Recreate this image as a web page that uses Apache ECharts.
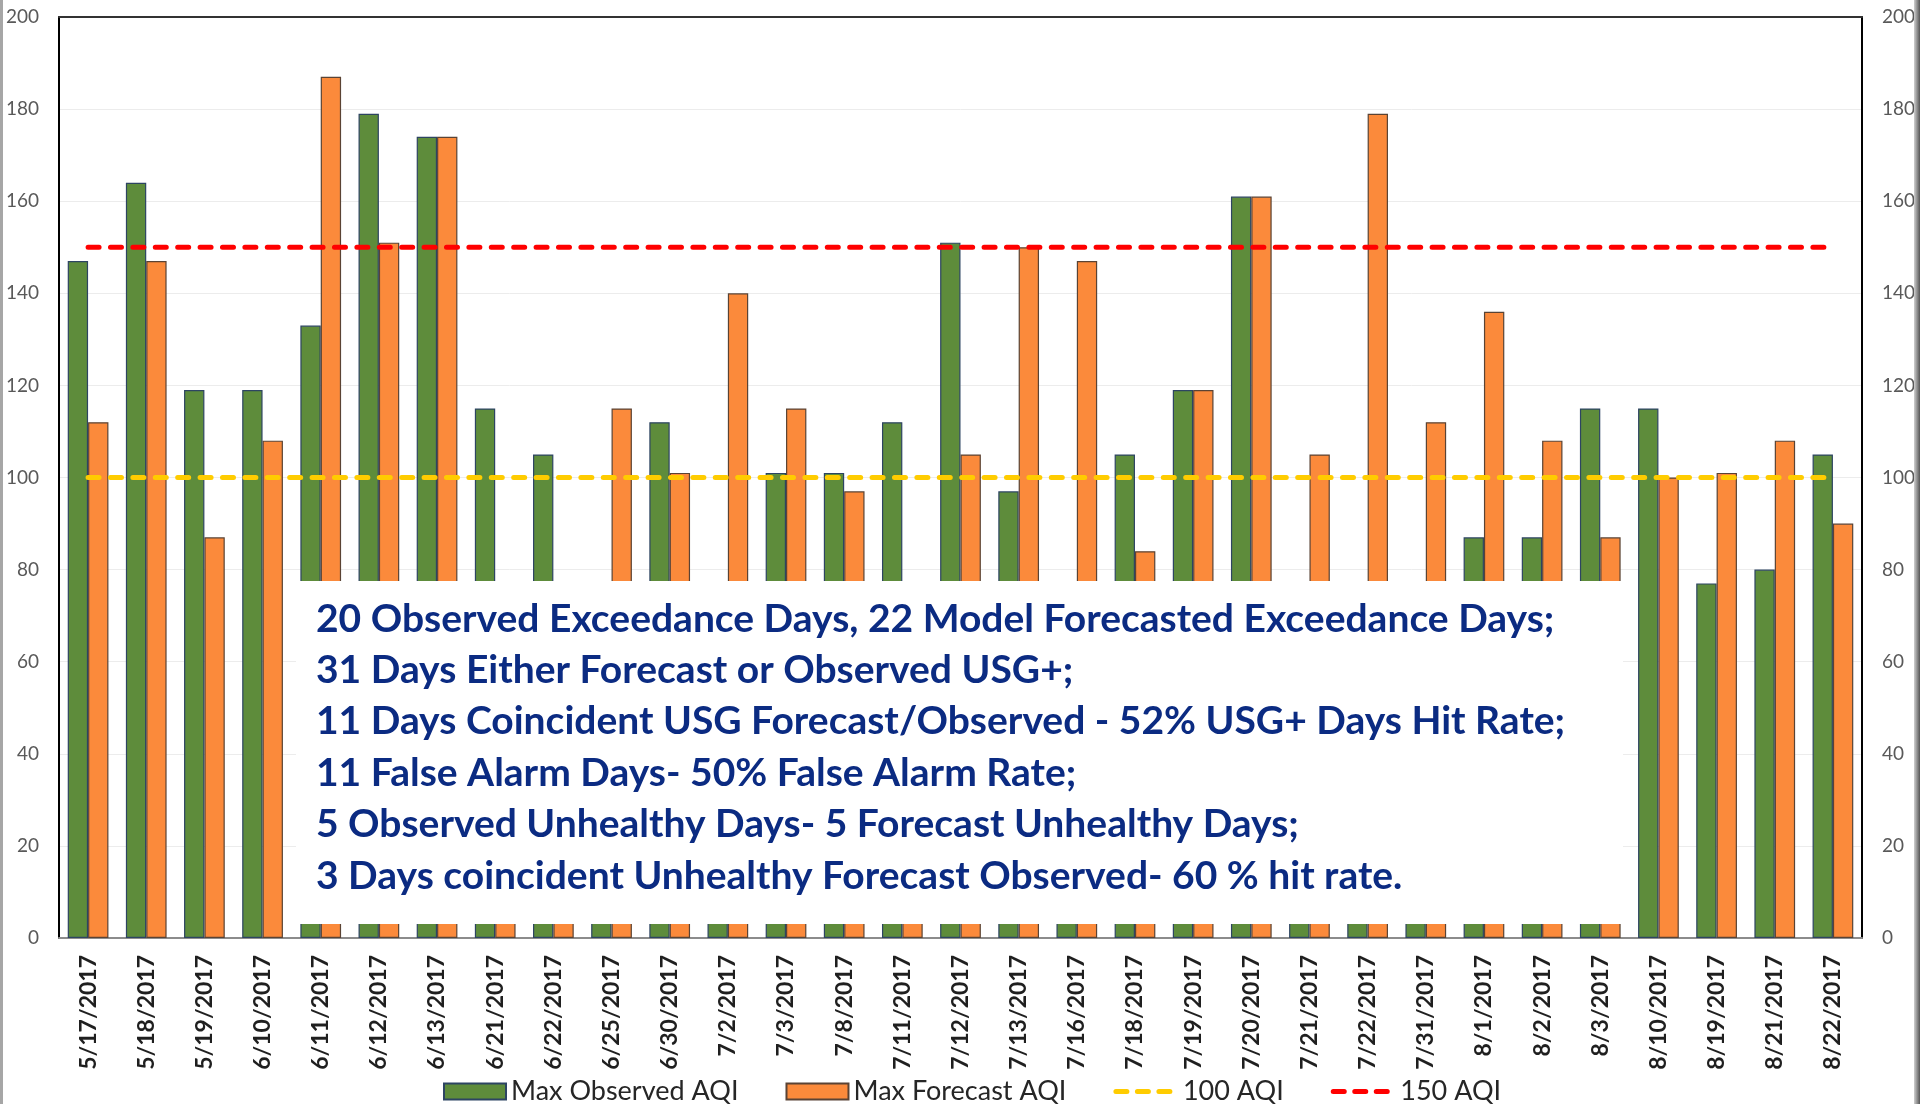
<!DOCTYPE html>
<html>
<head>
<meta charset="utf-8">
<title>Max Observed vs Max Forecast AQI</title>
<script src="https://cdn.jsdelivr.net/npm/echarts@6/dist/echarts.min.js"></script>
<style>
  html, body { margin: 0; padding: 0; background: #ffffff; }
  #chart { width: 1920px; height: 1104px; }
</style>
</head>
<body>
<div id="chart"></div>
<script>
// Exceedance-season days
const dates = [
  '5/17/2017', '5/18/2017', '5/19/2017', '6/10/2017', '6/11/2017', '6/12/2017',
  '6/13/2017', '6/21/2017', '6/22/2017', '6/25/2017', '6/30/2017', '7/2/2017',
  '7/3/2017', '7/8/2017', '7/11/2017', '7/12/2017', '7/13/2017', '7/16/2017',
  '7/18/2017', '7/19/2017', '7/20/2017', '7/21/2017', '7/22/2017', '7/31/2017',
  '8/1/2017', '8/2/2017', '8/3/2017', '8/10/2017', '8/19/2017', '8/21/2017',
  '8/22/2017'
];

// Daily maximum AQI, observed
const maxObserved = [
  147, 164, 119, 119, 133, 179,
  174, 115, 105, 72, 112, 68,
  101, 101, 112, 151, 97, 75,
  105, 119, 161, 70, 74, 64,
  87, 87, 115, 115, 77, 80,
  105
];

// Daily maximum AQI, model forecast
const maxForecast = [
  112, 147, 87, 108, 187, 151,
  174, 76, 70, 115, 101, 140,
  115, 97, 73, 105, 150, 147,
  84, 119, 161, 105, 179, 112,
  136, 108, 87, 100, 101, 108,
  90
];

// Threshold reference lines
const aqi100 = [
  100, 100, 100, 100, 100, 100, 100, 100, 100, 100, 100, 100, 100, 100, 100, 100,
  100, 100, 100, 100, 100, 100, 100, 100, 100, 100, 100, 100, 100, 100, 100
];
const aqi150 = [
  150, 150, 150, 150, 150, 150, 150, 150, 150, 150, 150, 150, 150, 150, 150, 150,
  150, 150, 150, 150, 150, 150, 150, 150, 150, 150, 150, 150, 150, 150, 150
];

// Value axis range and step
const yMin = 0;
const yMax = 200;
const yStep = 20;

// Season summary statistics
const summaryLines = [
  '20 Observed Exceedance Days, 22 Model Forecasted Exceedance Days;',
  '31 Days Either Forecast or Observed USG+;',
  '11 Days Coincident USG Forecast/Observed - 52% USG+ Days Hit Rate;',
  '11 False Alarm Days- 50% False Alarm Rate;',
  '5 Observed Unhealthy Days- 5 Forecast Unhealthy Days;',
  '3 Days coincident Unhealthy Forecast Observed- 60 % hit rate.'
];

const FONT = 'Lato, "Liberation Sans", sans-serif';
const chart = echarts.init(document.getElementById('chart'), null, { renderer: 'canvas' });

const dashed = (color) => ({
  color: color,
  width: 5,
  type: [11, 11.4],
  cap: 'round'
});

// Legend swatch for the threshold lines: thick dashes, no point marker
const legendDash = (color) => ({
  lineStyle: { color: color, width: 5, type: [11, 10.5], cap: 'round' },
  itemStyle: { opacity: 0 }
});

const summaryTexts = summaryLines.map((line, i) => ({
  type: 'text',
  z: 101,
  x: 316,
  y: 619 + i * 51.4,
  style: {
    text: line,
    fontFamily: FONT,
    fontWeight: 'bold',
    fontSize: 39,
    fill: '#0B2B82',
    align: 'left',
    verticalAlign: 'middle'
  }
}));

chart.setOption({
  animation: false,
  backgroundColor: '#ffffff',
  grid: { left: 59, right: 58, top: 17, bottom: 166, containLabel: false },
  legend: {
    left: 438,
    top: 1073,
    itemWidth: 62,
    itemHeight: 16,
    itemGap: 47,
    textStyle: { fontFamily: FONT, fontSize: 27, color: '#262626' },
    data: [
      { name: 'Max Observed AQI', icon: 'rect' },
      { name: 'Max Forecast AQI', icon: 'rect' },
      Object.assign({ name: '100 AQI' }, legendDash('#FFCC00')),
      Object.assign({ name: '150 AQI' }, legendDash('#FF0000'))
    ]
  },
  xAxis: [
    {
      type: 'category',
      data: dates,
      position: 'bottom',
      axisLine: { lineStyle: { color: '#8c8c8c', width: 2 } },
      axisTick: { show: false },
      axisLabel: {
        interval: 0,
        rotate: 90,
        margin: 17,
        fontFamily: FONT,
        fontWeight: 'bold',
        fontSize: 23,
        color: '#1f1f1f'
      },
      splitLine: { show: false }
    },
    {
      type: 'category',
      data: dates,
      position: 'top',
      axisLine: { onZero: false, lineStyle: { color: '#333333', width: 2 } },
      axisTick: { show: false },
      axisLabel: { show: false },
      splitLine: { show: false }
    }
  ],
  yAxis: [
    {
      type: 'value',
      min: yMin,
      max: yMax,
      interval: yStep,
      position: 'left',
      axisLine: { show: true, onZero: false, lineStyle: { color: '#000000', width: 2 } },
      axisTick: { show: false },
      axisLabel: { margin: 20, fontFamily: FONT, fontSize: 19, color: '#595959' },
      splitLine: { show: true, lineStyle: { color: '#ececec', width: 1 } }
    },
    {
      type: 'value',
      min: yMin,
      max: yMax,
      interval: yStep,
      position: 'right',
      axisLine: { show: true, onZero: false, lineStyle: { color: '#000000', width: 2 } },
      axisTick: { show: false },
      axisLabel: { margin: 20, fontFamily: FONT, fontSize: 19, color: '#595959' },
      splitLine: { show: false }
    }
  ],
  series: [
    {
      name: 'Max Observed AQI',
      type: 'bar',
      data: maxObserved,
      barWidth: '35%',
      barGap: '0%',
      itemStyle: { color: '#5E8C3B', borderColor: '#2D4462', borderWidth: 1.2 }
    },
    {
      name: 'Max Forecast AQI',
      type: 'bar',
      data: maxForecast,
      barWidth: '35%',
      barGap: '0%',
      itemStyle: { color: '#FB8A3B', borderColor: '#5A4334', borderWidth: 1.2 }
    },
    {
      name: '100 AQI',
      type: 'line',
      data: aqi100,
      symbol: 'none',
      z: 5,
      itemStyle: { color: '#FFCC00' },
      lineStyle: dashed('#FFCC00')
    },
    {
      name: '150 AQI',
      type: 'line',
      data: aqi150,
      symbol: 'none',
      z: 5,
      itemStyle: { color: '#FF0000' },
      lineStyle: dashed('#FF0000')
    }
  ],
  graphic: [
    {
      type: 'rect',
      z: 100,
      shape: { x: 296, y: 581, width: 1327, height: 343 },
      style: { fill: '#ffffff' }
    },
    ...summaryTexts,
    {
      type: 'rect',
      z: 100,
      shape: { x: 0, y: 0, width: 3, height: 1104 },
      style: { fill: '#a6a6a6' }
    },
    {
      type: 'rect',
      z: 100,
      shape: { x: 1914, y: 0, width: 6, height: 1104 },
      style: {
        fill: new echarts.graphic.LinearGradient(0, 0, 1, 0, [
          { offset: 0, color: '#d0d0d0' },
          { offset: 1, color: '#555555' }
        ])
      }
    }
  ]
});
</script>
</body>
</html>
